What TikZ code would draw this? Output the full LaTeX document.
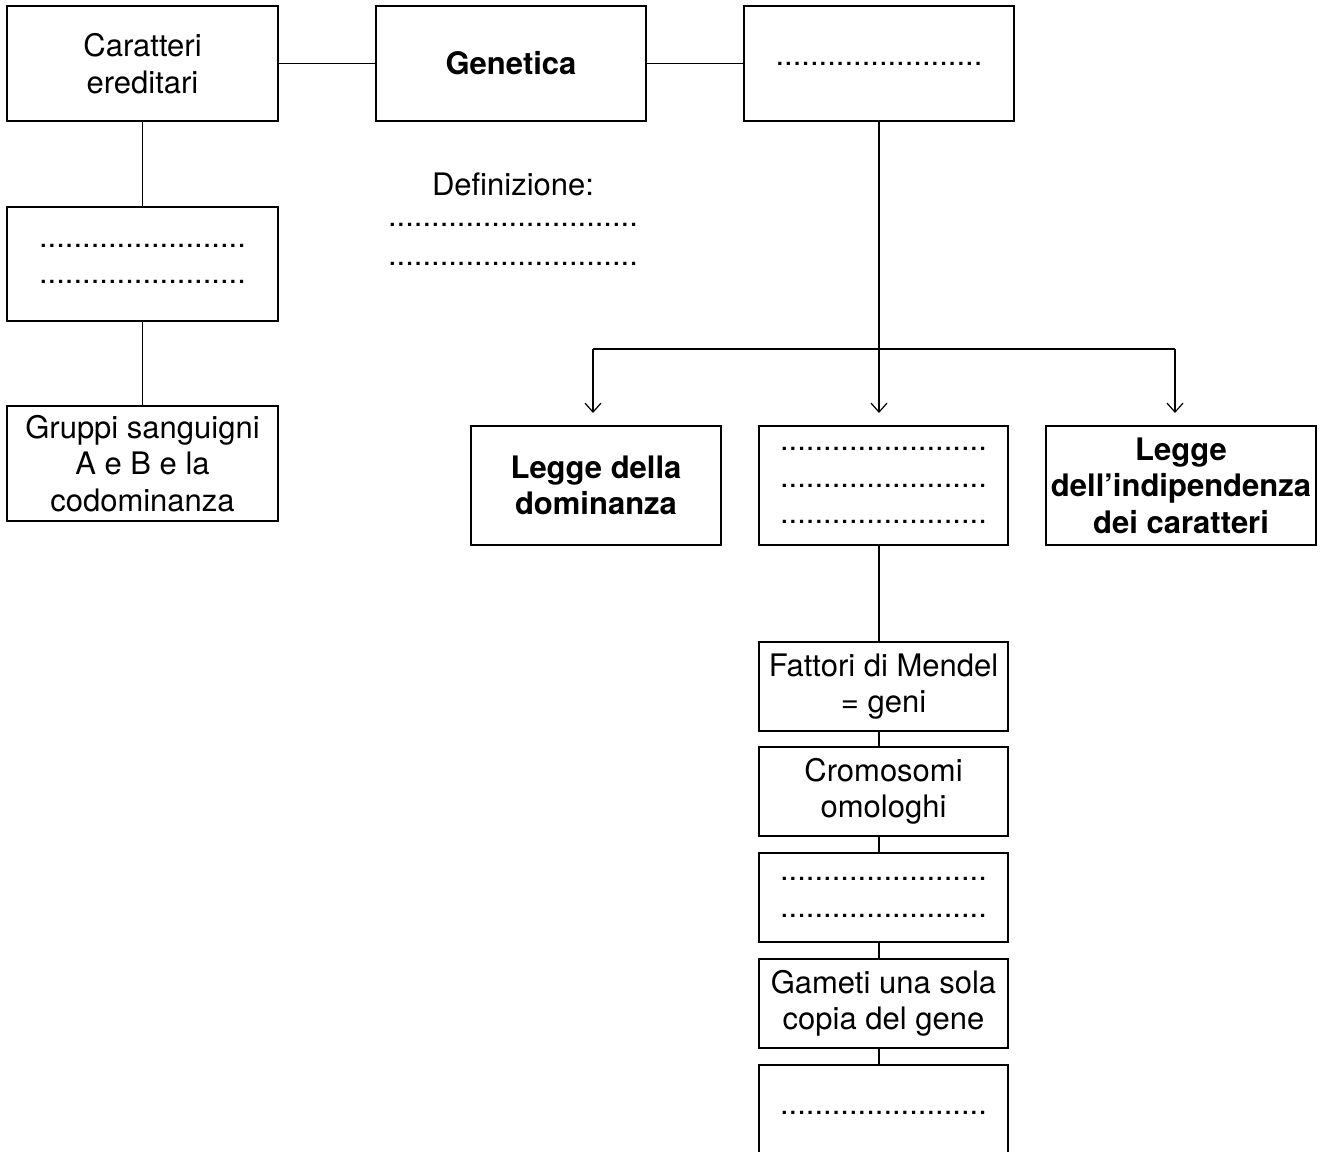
\documentclass[tikz,border=0pt]{standalone}
\usepackage{fontspec}
\setmainfont{TeX Gyre Heros}
\usetikzlibrary{arrows.meta}
\newcommand\dotsA{........................}
\newcommand\dotsB{.............................}
\begin{document}
\begin{tikzpicture}[x=1pt,y=-1pt,
  box/.style={draw,line width=1.2pt,rectangle,inner sep=2pt,align=center,
    font=\fontsize{31}{36.5}\selectfont},
  bbox/.style={box,font=\fontsize{31}{36.5}\selectfont\bfseries},
  link/.style={line width=1.2pt},
  arr/.style={line width=1.2pt,-{Straight Barb[length=9pt,width=16pt,line width=1.2pt]}},
  txt/.style={font=\fontsize{31}{36.5}\selectfont,inner sep=0pt,anchor=base}]
\useasboundingbox (0,0) rectangle (1327,1151);
\fill[white] (0,0) rectangle (1327,1151);
% top row
\node[box,minimum width=271pt,minimum height=115pt] (car) at (142.5,63.5) {Caratteri\\ereditari};
\node[bbox,minimum width=270pt,minimum height=115pt] (gen) at (511,63.5) {Genetica};
\node[box,minimum width=270pt,minimum height=115pt] (top3) at (879,63.5) {\dotsA};
\draw[link] (car.east) -- (gen.west);
\draw[link] (gen.east) -- (top3.west);
% left column
\node[box,minimum width=271pt,minimum height=114pt] (l2) at (142.5,264) {\dotsA\\\dotsA};
\node[box,minimum width=271pt,minimum height=115pt] (l3) at (142.5,463.5) {Gruppi sanguigni\\A e B e la\\codominanza};
\draw[link] (car.south) -- (l2.north);
\draw[link] (l2.south) -- (l3.north);
% definition
\node[txt] (def) at (513,195) {Definizione:};
\node[txt] (dl1) at (513,226) {\dotsB};
\node[txt] (dl2) at (513,265) {\dotsB};
% laws
\node[bbox,minimum width=250pt,minimum height=119pt] (dom) at (596,485.5) {Legge della\\dominanza};
\node[box,minimum width=249pt,minimum height=119pt] (mid) at (883.5,485.5) {\dotsA\\\dotsA\\\dotsA};
\node[bbox,minimum width=270pt,minimum height=119pt] (ind) at (1181,485.5) {Legge\\dell’indipendenza\\dei caratteri};
\coordinate (j) at (879,349);
\coordinate (j1) at (593,349);
\coordinate (j3) at (1175,349);
\coordinate (t1) at (593,413);
\coordinate (t2) at (879,413);
\coordinate (t3) at (1175,413);
\draw[link] (top3.south) -- (j);
\draw[link] (j1) -- (j3);
\draw[arr] (j1) -- (t1);
\draw[arr] (j) -- (t2);
\draw[arr] (j3) -- (t3);
% stack
\node[box,minimum width=249pt,minimum height=89pt] (s1) at (883.5,686.5) {Fattori di Mendel\\= geni};
\node[box,minimum width=249pt,minimum height=89pt] (s2) at (883.5,791.5) {Cromosomi\\omologhi};
\node[box,minimum width=249pt,minimum height=89pt] (s3) at (883.5,897.5) {\dotsA\\\dotsA};
\node[box,minimum width=249pt,minimum height=89pt] (s4) at (883.5,1003.5) {Gameti una sola\\copia del gene};
\node[box,minimum width=249pt,minimum height=96pt] (s5) at (883.5,1113) {\dotsA};
\draw[link] (mid.south -| j) -- (s1.north -| j);
\draw[link] (s1.south -| j) -- (s2.north -| j);
\draw[link] (s2.south -| j) -- (s3.north -| j);
\draw[link] (s3.south -| j) -- (s4.north -| j);
\draw[link] (s4.south -| j) -- (s5.north -| j);
\end{tikzpicture}
\end{document}
